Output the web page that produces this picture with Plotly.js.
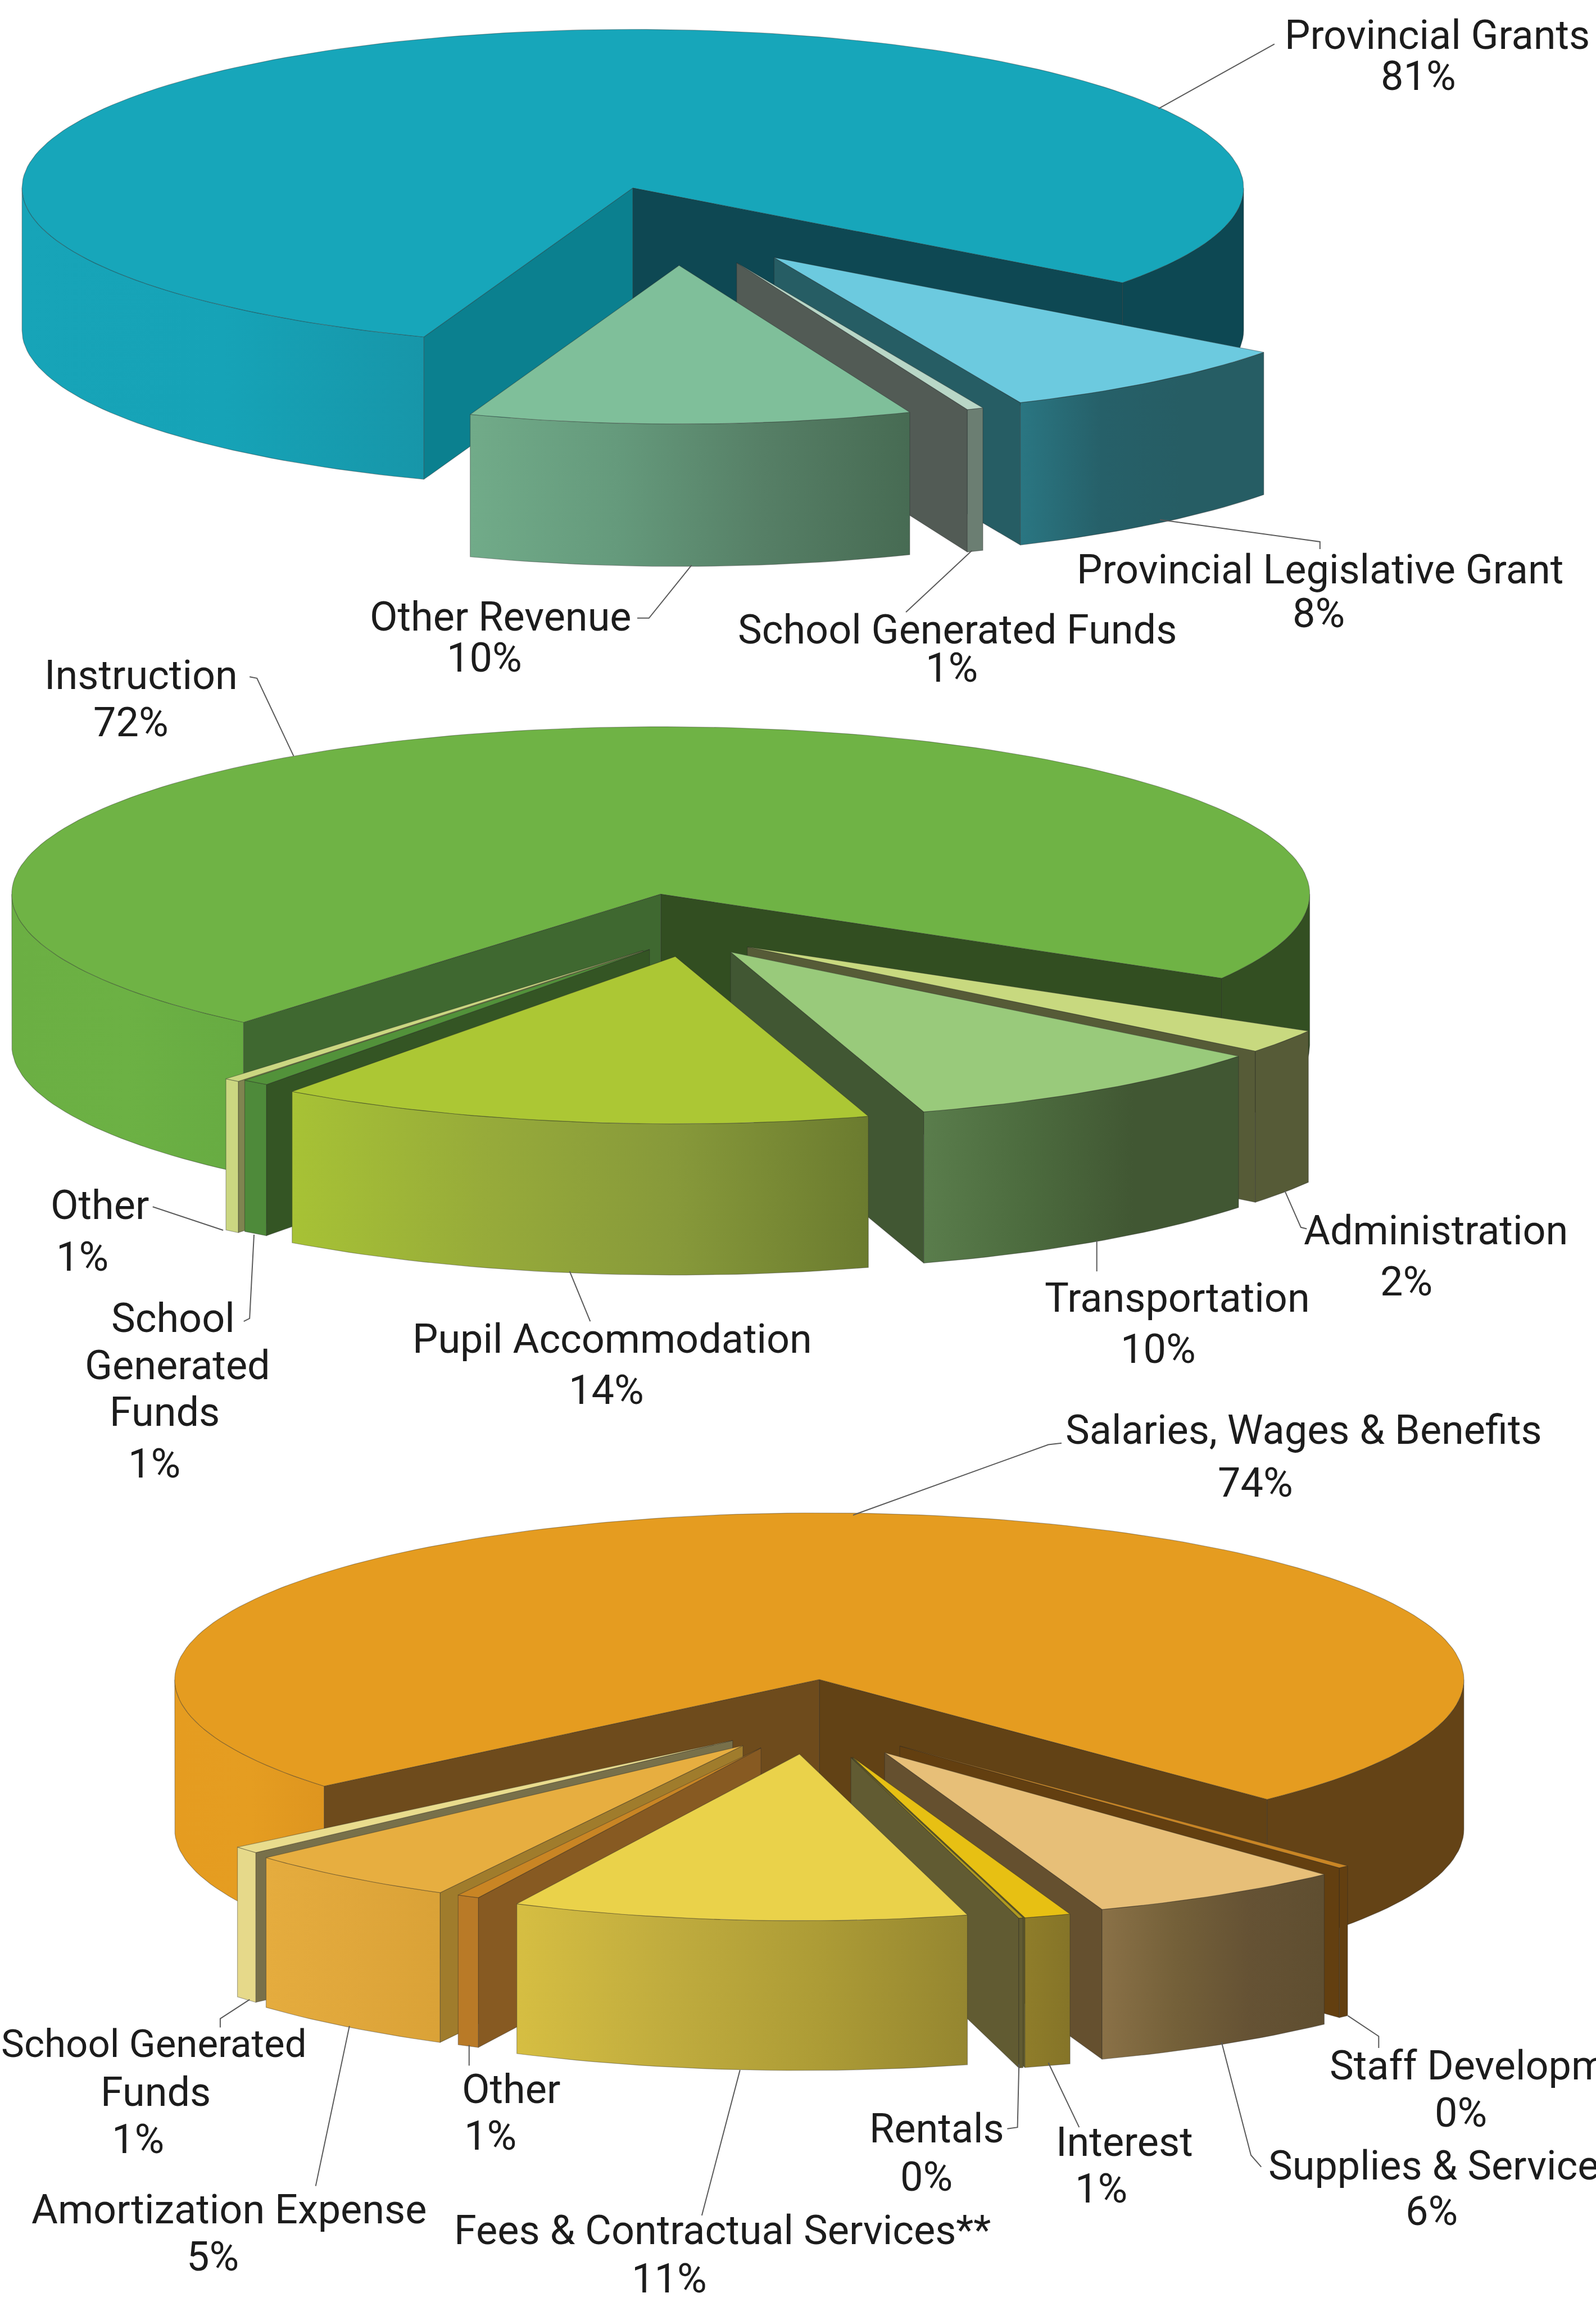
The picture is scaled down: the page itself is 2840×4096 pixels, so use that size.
<!DOCTYPE html>
<html>
<head>
<meta charset="utf-8">
<script src="https://cdn.plot.ly/plotly-3.0.1.min.js"></script>
<style>html,body{margin:0;padding:0;background:#fff;overflow:hidden}#chart{width:2840px;height:4096px}</style>
</head>
<body>
<div id="chart"></div>
<script>
// ---------- DATA ----------
const revenueCategories = ['Provincial Grants','Provincial Legislative Grant','School Generated Funds','Other Revenue'];
const revenuePercent = [81,8,1,10];
const revenueSweep = [79.64,8.2,0.44,11.72];

const expenseCategories = ['Instruction','Administration','Transportation','Pupil Accommodation','School Generated Funds','Other'];
const expensePercent = [72,2,10,14,1,1];
const expenseSweep = [72.27,2.31,9.5,14.86,0.67,0.39];

const objectCategories = ['Salaries, Wages & Benefits','Staff Development','Supplies & Services','Interest','Rentals','Fees & Contractual Services**','Other','Amortization Expense','School Generated Funds'];
const objectPercent = [74,0,6,1,0,11,1,5,1];
const objectSweep = [73.83,0.28,6.47,1.17,0.11,11.42,0.56,5.47,0.69];

// ---------- PIE GEOMETRY (picture units, 1087 wide) ----------
const revenueShape = {cx:431,cy:128,rx:416,ry:108,depth:97,start:200};
const expenseShape = {cx:450,cy:609,rx:442,ry:114,depth:103,start:220};
const objectShape  = {cx:558,cy:1144,rx:439,ry:113.5,depth:102,start:230.2};
const revenueExplode = [[0,0],[96.2,47.4],[70.7,51],[31.5,52.8]];
const expenseExplode = [[0,0],[59,36],[47.6,39.5],[9.9,42.5],[-7.6,37.7],[-12,38.5]];
const objectExplode  = [[0,0],[54.8,45.3],[44.5,49.8],[22.7,52.9],[21.5,53],[-13.5,50.8],[-39.7,46.6],[-52,45],[-59,41.5]];
const revenueOrder = [0,1,2,3];
const expenseOrder = [0,1,2,5,4,3];
const objectOrder  = [0,1,2,3,4,8,7,6,5];

// ---------- SLICE STYLES ----------
const revenueStyle = [
 {top:'#17A6BA',wall:['#17A4B8','#16A3B7','#1796A9'],wallBack:['#0D4853'],startWall:'#0B808F',endWall:'#0E4853'},
 {top:'#6CCADF',wall:['#2A7682','#266069','#265D64','#265D64'],startWall:'#265D64',endWall:'#265D64'},
 {top:'#B9D7C7',wall:['#6B7E72'],startWall:'#6B7E72',endWall:'#525B55'},
 {top:'#7FBF9A',wall:['#71AB89','#659A7C','#567F66','#476B53'],startWall:'#476B53',endWall:'#476B53'}
];
const expenseStyle = [
 {top:'#6FB345',wall:['#6BAF43','#6CB144','#67AB42'],wallBack:['#334F22'],startWall:'#3F6830',endWall:'#324E21'},
 {top:'#C8D97F',wall:['#565B37'],startWall:'#565B37',endWall:'#565B37'},
 {top:'#99CA7B',wall:['#5A7D4C','#4C6B3E','#415733','#415733'],startWall:'#415733',endWall:'#415733'},
 {top:'#ACC734',wall:['#A7C235','#97AB3A','#87993A','#6B7B2F'],startWall:'#6B7B2F',endWall:'#6B7B2F'},
 {top:'#52923A',wall:['#4E8A3A'],startWall:'#345524',endWall:'#345524'},
 {top:'#CBD781',wall:['#CBD781'],startWall:'#7F8450',endWall:'#7F8450'}
];
const objectStyle = [
 {top:'#E59C20',wall:['#E59C20','#E59D21','#DE951F'],wallBack:['#644316'],startWall:'#6E4B1C',endWall:'#624215'},
 {top:'#C98524',wall:['#633F10'],startWall:'#633F10',endWall:'#633F10'},
 {top:'#E7BF78',wall:['#8A7147','#746039','#655234','#5F4E30'],startWall:'#65502F',endWall:'#65502F'},
 {top:'#E7C013',wall:['#8F7D2A','#857428'],startWall:'#7D6E20',endWall:'#5F5A2A'},
 {top:'#B09A20',wall:['#615B32'],startWall:'#615B32',endWall:'#615B32'},
 {top:'#EAD24A',wall:['#D6BE42','#C0AC3E','#AD9C36','#958630'],startWall:'#958630',endWall:'#958630'},
 {top:'#C98524',wall:['#B97A27'],startWall:'#875A22',endWall:'#875A22'},
 {top:'#E7AE40',wall:['#E5AC3E','#E0A73B','#DAA237'],startWall:'#A07C2C',endWall:'#A07C2C'},
 {top:'#E9DC8D',wall:['#E6D98A'],startWall:'#78704A',endWall:'#78704A'}
];

// ---------- LABEL PLACEMENT ----------
const revenueNamePlaces = [[['Provincial Grants',979,24]],[['Provincial Legislative Grant',899,388]],[['School Generated Funds',652,429]],[['Other Revenue',341,420]]];
const revenuePctPlaces = [[966,52],[898,418],[648,455],[330,448]];
const expenseNamePlaces = [[['Instruction',96,460]],[['Administration',978,838]],[['Transportation',802,884]],[['Pupil Accommodation',417,912]],[['School',118,898],['Generated',121,930],['Funds',112,962]],[['Other',68,821]]];
const expensePctPlaces = [[89,492],[958,873],[789,919],[413,947],[105,997],[56,856]];
const objectNamePlaces = [[['Salaries, Wages & Benefits',888,974]],[['Staff Development',905,1407,'left']],[['Supplies & Services',863,1475,'left']],[['Interest',766,1459]],[['Rentals',638,1450]],[['Fees & Contractual Services**',492,1519]],[['Other',348,1423]],[['Amortization Expense',156,1505]],[['School Generated',105,1392,'center',69],['Funds',106,1425]]];
const objectPctPlaces = [[855,1010],[995,1439],[975,1506],[750,1491],[631,1483],[456,1552],[334,1455],[145,1537],[94,1457]];

const leaderPaths = [
 [[868,30],[789,74]],[[790,354],[899,369],[899,374]],[[471,385],[442,421],[434,421]],[[662,375],[617,417]],
 [[170,461],[175,462],[200,515]],[[104,822],[152,838]],[[173,841],[170,898],[166,900]],[[388,866],[402,900]],[[747,845],[747,866]],[[875,811],[886,836],[890,837]],
 [[723,983],[714,984],[581,1032]],[[170,1362],[150,1375],[150,1381]],[[238,1380],[215,1489]],[[319.5,1393],[319.5,1407]],[[504,1410],[478,1509]],
 [[694,1406],[693,1449],[686,1450]],[[714,1405],[735,1449]],[[832,1391],[852,1468],[859,1476]],[[918,1373],[939,1387],[939,1395]]
];

const labelFont = {family:'Roboto, sans-serif', size:72, color:'#1c1c1c'};
const edge = 'rgba(40,40,40,0.38)';

// ---------- BUILD ----------
const traces = [];
function rad(d){return d*Math.PI/180;}
function scaleOf(stops){
  if(stops.length===1) return [[0,stops[0]],[1,stops[0]]];
  return stops.map((c,i)=>[i/(stops.length-1),c]);
}
function poly(xs,ys,fill,stops){
  const t = {x:xs,y:ys,mode:'lines',fill:'toself',line:{color:edge,width:1.2},hoverinfo:'skip',showlegend:false,fillcolor:fill};
  if(stops && stops.length>1){
    t.fillgradient = {type:'horizontal',colorscale:scaleOf(stops),start:Math.min(...xs),stop:Math.max(...xs)};
  }
  traces.push(t);
}
function drawPie(shape,sweep,explode,order,style){
  const total = sweep.reduce((a,b)=>a+b,0);
  let run = shape.start;
  const spans = sweep.map(v=>{const a=run; run+=v/total*360; return [a,run];});
  order.forEach(i=>{
    const [a0,a1] = spans[i], st = style[i];
    const ax = shape.cx+explode[i][0], ay = shape.cy+explode[i][1];
    const px = t=>ax+shape.rx*Math.sin(rad(t));
    const py = t=>ay-shape.ry*Math.cos(rad(t));
    const s0 = Math.sin(rad(a0)), s1 = Math.sin(rad(a1));
    // radial walls
    if(s1>0) poly([ax,px(a1),px(a1),ax,ax],[ay,py(a1),py(a1)+shape.depth,ay+shape.depth,ay],st.endWall);
    if(s0<0) poly([ax,px(a0),px(a0),ax,ax],[ay,py(a0),py(a0)+shape.depth,ay+shape.depth,ay],st.startWall);
    // outer wall, only the part turned to the viewer
    [[90,270,st.wall],[450,630,st.wallBack||st.wall]].forEach(([lo,hi,stops])=>{
      const b0=Math.max(a0,lo), b1=Math.min(a1,hi);
      if(b1<=b0) return;
      const n=Math.max(2,Math.ceil((b1-b0)/1.5)), xs=[], ys=[];
      for(let k=0;k<=n;k++){const t=b0+(b1-b0)*k/n; xs.push(px(t)); ys.push(py(t));}
      for(let k=n;k>=0;k--){const t=b0+(b1-b0)*k/n; xs.push(px(t)); ys.push(py(t)+shape.depth);}
      xs.push(xs[0]); ys.push(ys[0]);
      poly(xs,ys,stops[0],stops);
    });
    // top face
    const n=Math.max(2,Math.ceil((a1-a0)/1.5)), xs=[ax], ys=[ay];
    for(let k=0;k<=n;k++){const t=a0+(a1-a0)*k/n; xs.push(px(t)); ys.push(py(t));}
    xs.push(ax); ys.push(ay);
    poly(xs,ys,st.top);
  });
}
drawPie(revenueShape,revenueSweep,revenueExplode,revenueOrder,revenueStyle);
drawPie(expenseShape,expenseSweep,expenseExplode,expenseOrder,expenseStyle);
drawPie(objectShape,objectSweep,objectExplode,objectOrder,objectStyle);

const annotations = [];
function addLabels(names,pct,places){
  names.forEach(lines=>lines.forEach(l=>annotations.push({x:l[1],y:l[2],xref:'x',yref:'y',text:l[0].replace(/&/g,'&amp;'),showarrow:false,xanchor:l[3]||'center',yanchor:'middle',font:Object.assign({},labelFont,l[4]?{size:l[4]}:{})})));
  places.forEach((p,i)=>annotations.push({x:p[0],y:p[1],xref:'x',yref:'y',text:pct[i]+'%',showarrow:false,xanchor:'center',yanchor:'middle',font:labelFont}));
}
addLabels(revenueNamePlaces,revenuePercent,revenuePctPlaces);
addLabels(expenseNamePlaces,expensePercent,expensePctPlaces);
addLabels(objectNamePlaces,objectPercent,objectPctPlaces);

const shapes = leaderPaths.map(p=>({type:'path',xref:'x',yref:'y',path:'M'+p.map(q=>q.join(' ')).join(' L'),line:{color:'#5a5a5a',width:2},fillcolor:'rgba(0,0,0,0)'}));

Plotly.newPlot('chart',traces,{
  width:2840,height:4096,margin:{l:0,r:0,t:0,b:0},
  paper_bgcolor:'#ffffff',plot_bgcolor:'#ffffff',showlegend:false,
  xaxis:{range:[0,1087],visible:false,fixedrange:true},
  yaxis:{range:[1568,0],visible:false,fixedrange:true},
  annotations,shapes
},{displayModeBar:false,staticPlot:true});
</script>
</body>
</html>
